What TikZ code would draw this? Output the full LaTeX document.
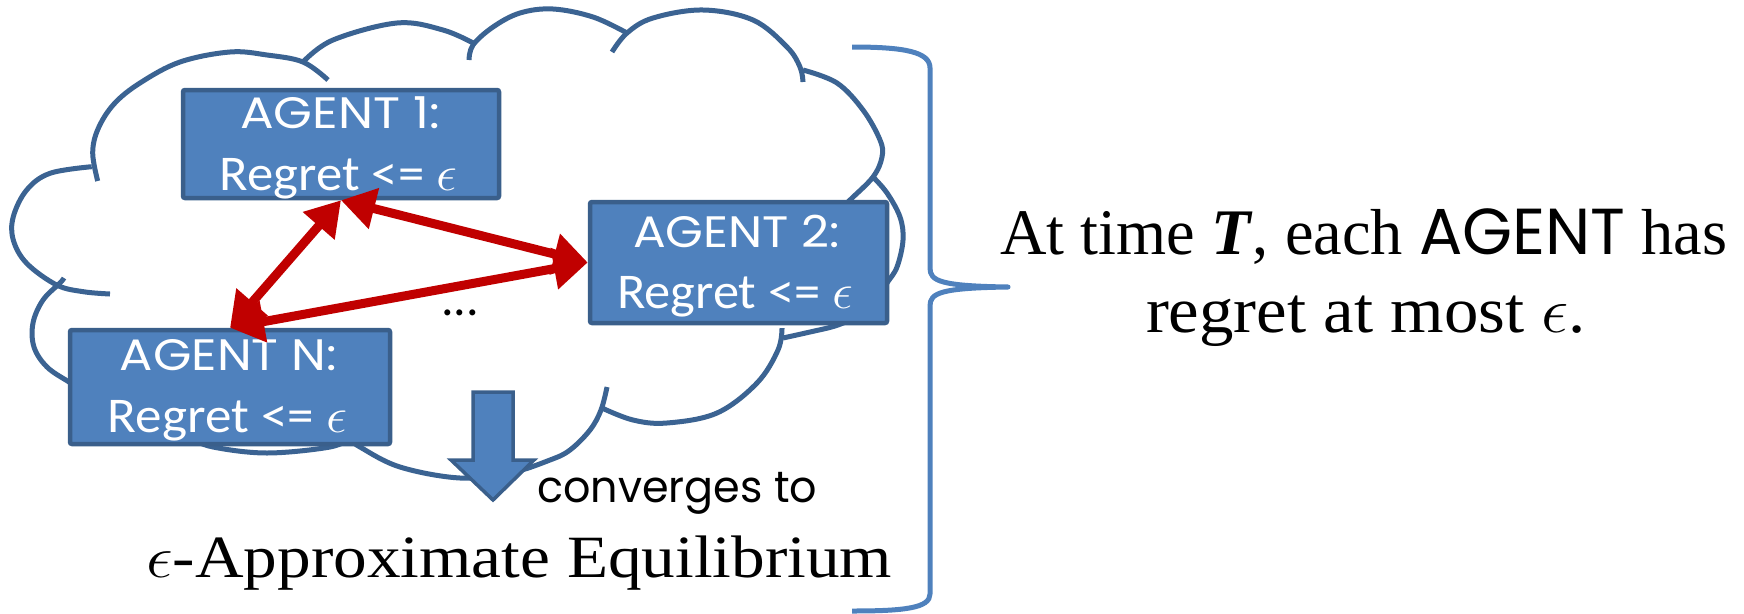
\RequirePackage{fix-cm}
\documentclass[tikz,border=0pt]{standalone}
\usepackage{fontspec}
\usepackage{graphicx}
\usetikzlibrary{arrows.meta}

\newfontfamily\camfont{Liberation Serif}
\newfontfamily\comicfont{Poppins}
\newfontfamily\calfont{Carlito}

\definecolor{cloudline}{HTML}{3B6392}
\definecolor{boxfill}{HTML}{4F81BD}
\definecolor{boxline}{HTML}{3A5F8B}
\definecolor{linkred}{HTML}{C00000}
\definecolor{bracecol}{HTML}{4F81BD}

% stretch a text horizontally to a given width, keeping its height
\newcommand\fitw[2]{\resizebox{#1}{\height}{#2}}

\tikzset{
  lobe/.style={draw=cloudline, line width=5pt},
  agentbox/.style={draw=boxline, fill=boxfill, line width=4.5pt, rounded corners=2pt,
    inner sep=0pt, rectangle},
  agenthead/.style={anchor=base, text=white, inner sep=0pt,
    font=\comicfont\fontsize{44}{48}\selectfont},
  agentreg/.style={anchor=base, text=white, inner sep=0pt,
    font=\calfont\fontsize{50}{56}\selectfont},
  link/.style={draw=linkred, line width=9pt, >={Triangle[length=34pt,width=40pt]}, <->},
  bigtext/.style={inner sep=0pt, text=black, font=\camfont\fontsize{65}{70}\selectfont},
  bracestyle/.style={draw=bracecol, line width=5pt, line join=round},
  downarrow/.style={draw=boxline, fill=boxfill, line width=3.5pt, line join=miter}
}

\begin{document}
\begin{tikzpicture}[x=1pt, y=-1pt]
\useasboundingbox (0,0) rectangle (1744,613);

% cloud outline, lobe by lobe
\draw[lobe] plot[smooth, tension=0.6] coordinates
  {(97.7,181) (92.7,153) (98,129) (114,104) (140,83) (180,62) (230,52) (267,55) (303,62) (328,80)};
\draw[lobe] plot[smooth, tension=0.6] coordinates
  {(303,62) (333,40) (397,23) (443,30) (475,44)};
\draw[lobe] plot[smooth, tension=0.6] coordinates
  {(469,60) (473,45) (493,27) (520,13) (553,9) (593,17) (627,33)};
\draw[lobe] plot[smooth, tension=0.6] coordinates
  {(612,52) (627,33) (653,18) (703,10) (753,20) (787,47) (800,67) (803,82)};
\draw[lobe] plot[smooth, tension=0.6] coordinates
  {(803,70) (837,83) (863,110) (880,140) (882,157) (873,177) (850,200) (835,215)};
\draw[lobe] plot[smooth, tension=0.6] coordinates
  {(873,177) (887,193) (900,217) (903,240) (897,267) (887,283) (878,298)};
\draw[lobe] plot[smooth, tension=0.6] coordinates
  {(783,338) (810,332) (835,326) (855,318)};
\draw[lobe] plot[smooth, tension=0.6] coordinates
  {(602,408) (633,420) (667,423) (717,413) (757,383) (778,350) (782,328)};
\draw[lobe] plot[smooth, tension=0.6] coordinates
  {(345,436) (360,447) (400,467) (460,478) (510,473) (550,460) (570,450) (590,430) (601,410) (607,387)};
\draw[lobe] plot[smooth, tension=0.6] coordinates
  {(190,438) (213,447) (267,453) (330,447) (350,438)};
\draw[lobe] plot[smooth, tension=0.6] coordinates
  {(64,278) (60,283) (43,300) (33,323) (34,347) (47,367) (69,382) (85,392)};
\draw[lobe] plot[smooth, tension=0.6] coordinates
  {(91.7,166.7) (50,173.3) (26.7,190) (13.3,216.7) (13.3,240) (26.7,263.3) (56.7,285) (83.3,291.7) (110,294)};

% agents
\node[agentbox, minimum width=316pt, minimum height=108pt] (a1) at (341,144) {};
\node[agentbox, minimum width=297pt, minimum height=121pt] (a2) at (738.5,262.5) {};
\node[agentbox, minimum width=320pt, minimum height=114pt] (an) at (230,387) {};

\node[agenthead] (a1h) at (340,128) {\fitw{200pt}{AGENT 1:}};
\node[agentreg]  (a1r) at (338.5,190) {\fitw{237pt}{Regret <= $\epsilon$}};
\node[agenthead] (a2h) at (736.5,247) {\fitw{207pt}{AGENT 2:}};
\node[agentreg]  (a2r) at (735,308) {\fitw{236pt}{Regret <= $\epsilon$}};
\node[agenthead] (anh) at (228.5,370) {\fitw{217pt}{AGENT N:}};
\node[agentreg]  (anr) at (227.5,432) {\fitw{239pt}{Regret <= $\epsilon$}};

% regret links between the agents
\draw[link] (a1.south) -- (a2.west);
\draw[link] (a1.south) -- (an.north);
\draw[link] (an.north) -- (a2.west);

\node[anchor=base, inner sep=0pt, font=\calfont\fontsize{50}{56}\selectfont] (dots) at (460,315) {...};

% block arrow towards the equilibrium
\draw[downarrow] (473,392) -- (513,392) -- (513,460) -- (534,460) -- (493,500)
  -- (451,460) -- (473,460) -- cycle;

\node[anchor=base west, inner sep=0pt, font=\comicfont\fontsize{44}{48}\selectfont] (conv)
  at (537,502) {\fitw{280pt}{converges to}};
\node[bigtext, anchor=base west, font=\camfont\fontsize{60}{66}\selectfont] (eq)
  at (146,577) {\fitw{746pt}{$\epsilon$-Approximate Equilibrium}};

% brace and conclusion
\draw[bracestyle] (852,47) .. controls (905,47) and (930,52) .. (930,68)
  -- (930,268) .. controls (930,281) and (940,286) .. (1008,287)
  .. controls (940,288) and (930,293) .. (930,306)
  -- (930,594) .. controls (930,608) and (905,611) .. (852,611);

\node[bigtext, anchor=base] (rt1) at (1364,254)
  {\fitw{727pt}{At time \textbf{\textit{T}}, each {\comicfont AGENT} has}};
\node[bigtext, anchor=base] (rt2) at (1366,332)
  {\fitw{440pt}{regret at most $\epsilon$.}};
\end{tikzpicture}
\end{document}
